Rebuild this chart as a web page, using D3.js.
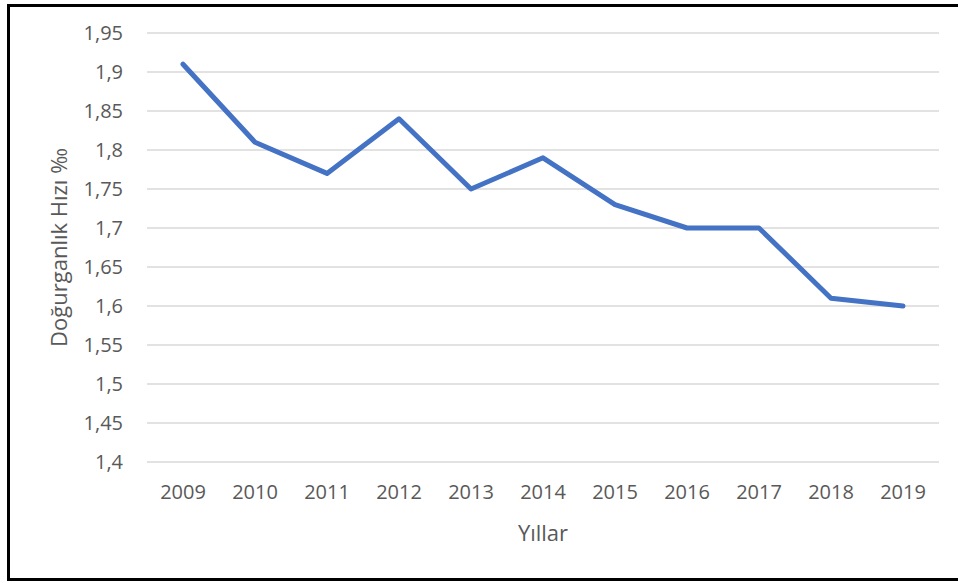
<!DOCTYPE html>
<html>
<head>
<meta charset="utf-8">
<script src="https://cdn.jsdelivr.net/npm/d3@7"></script>
<style>
  body { margin: 0; background: #fff; }
  #chart svg { display: block; }
</style>
</head>
<body>
<div id="chart"></div>
<script>
// data
var years = ["2009", "2010", "2011", "2012", "2013", "2014", "2015", "2016", "2017", "2018", "2019"];
var rates = [1.91, 1.81, 1.77, 1.84, 1.75, 1.79, 1.73, 1.70, 1.70, 1.61, 1.60];
var yTicks = [1.4, 1.45, 1.5, 1.55, 1.6, 1.65, 1.7, 1.75, 1.8, 1.85, 1.9, 1.95];

var W = 958, H = 583;
var margin = { top: 33, right: 19, bottom: 121, left: 147 },
    width = W - margin.left - margin.right,
    height = H - margin.top - margin.bottom;

var svg = d3.select("#chart").append("svg")
    .attr("width", W)
    .attr("height", H);

// outer frame
svg.append("rect")
    .attr("x", 8.5).attr("y", 5.5)
    .attr("width", W + 10).attr("height", 574)
    .attr("fill", "none")
    .attr("stroke", "#000")
    .attr("stroke-width", 3);

var g = svg.append("g")
    .attr("transform", "translate(" + margin.left + "," + margin.top + ")");

var x = d3.scaleBand().domain(years).range([0, width]);
var y = d3.scaleLinear().domain([1.4, 1.95]).range([height, 0]);

var fmt = function(d) { return d3.format("~g")(+d.toFixed(2)).replace(".", ","); };

// gridlines
g.append("g")
    .selectAll("line")
    .data(yTicks)
  .enter().append("line")
    .attr("x1", 0).attr("x2", width)
    .attr("y1", function(d) { return y(d); })
    .attr("y2", function(d) { return y(d); })
    .attr("stroke", "#d9d9d9")
    .attr("stroke-width", 1.3);

// y axis
var yAxis = d3.axisLeft(y).tickValues(yTicks).tickFormat(fmt).tickSize(0).tickPadding(24);
g.append("g")
    .attr("class", "y axis")
    .call(yAxis)
    .call(function(s) { s.select(".domain").remove(); })
  .selectAll("text")
    .attr("fill", "#595959")
    .style("font-family", "'Open Sans', sans-serif")
    .style("font-size", "20px");

// x axis
var xAxis = d3.axisBottom(x).tickSize(0).tickPadding(23);
g.append("g")
    .attr("class", "x axis")
    .attr("transform", "translate(0," + height + ")")
    .call(xAxis)
    .call(function(s) { s.select(".domain").remove(); })
  .selectAll("text")
    .attr("fill", "#595959")
    .style("font-family", "'Open Sans', sans-serif")
    .style("font-size", "20px");

// axis titles
svg.append("text")
    .attr("x", margin.left + width / 2)
    .attr("y", 541)
    .attr("text-anchor", "middle")
    .attr("fill", "#595959")
    .style("font-family", "'Open Sans', sans-serif")
    .style("font-size", "22px")
    .text("Yıllar");

svg.append("text")
    .attr("transform", "translate(67," + (margin.top + height / 2) + ") rotate(-90)")
    .attr("text-anchor", "middle")
    .attr("fill", "#595959")
    .style("font-family", "'Open Sans', sans-serif")
    .style("font-size", "22px")
    .text("Doğurganlık Hızı ‰");

// line
var line = d3.line()
    .x(function(d, i) { return x(years[i]) + x.bandwidth() / 2; })
    .y(function(d) { return y(d); });

g.append("path")
    .datum(rates)
    .attr("d", line)
    .attr("fill", "none")
    .attr("stroke", "#4472c4")
    .attr("stroke-width", 5)
    .attr("stroke-linejoin", "round")
    .attr("stroke-linecap", "round");
</script>
</body>
</html>
